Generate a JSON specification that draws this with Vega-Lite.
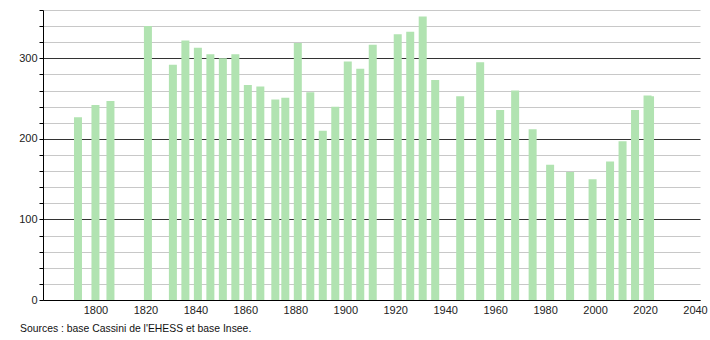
{
  "$schema": "https://vega.github.io/schema/vega-lite/v6.json",
  "width": 657,
  "height": 290,
  "autosize": "none",
  "padding": {"left": 43, "top": 10, "right": 10, "bottom": 40},
  "background": "white",
  "title": {"text": "Sources : base Cassini de l'EHESS et base Insee.", "orient": "bottom", "anchor": "start", "frame": "group", "dx": -23, "offset": 9, "fontSize": 10.4, "font": "Liberation Sans", "fontWeight": "normal", "color": "#111"},
  "data": {"values": [
    {"year": 1793, "pop": 227}, {"year": 1800, "pop": 242}, {"year": 1806, "pop": 247},
    {"year": 1821, "pop": 340}, {"year": 1831, "pop": 292}, {"year": 1836, "pop": 322},
    {"year": 1841, "pop": 313}, {"year": 1846, "pop": 305}, {"year": 1851, "pop": 300},
    {"year": 1856, "pop": 305}, {"year": 1861, "pop": 267}, {"year": 1866, "pop": 265},
    {"year": 1872, "pop": 249}, {"year": 1876, "pop": 251}, {"year": 1881, "pop": 319},
    {"year": 1886, "pop": 258}, {"year": 1891, "pop": 210}, {"year": 1896, "pop": 240},
    {"year": 1901, "pop": 296}, {"year": 1906, "pop": 287}, {"year": 1911, "pop": 317},
    {"year": 1921, "pop": 330}, {"year": 1926, "pop": 333}, {"year": 1931, "pop": 352},
    {"year": 1936, "pop": 273}, {"year": 1946, "pop": 253}, {"year": 1954, "pop": 295},
    {"year": 1962, "pop": 236}, {"year": 1968, "pop": 260}, {"year": 1975, "pop": 212},
    {"year": 1982, "pop": 168}, {"year": 1990, "pop": 159}, {"year": 1999, "pop": 150},
    {"year": 2006, "pop": 172}, {"year": 2011, "pop": 197}, {"year": 2016, "pop": 236},
    {"year": 2021, "pop": 254}, {"year": 2022, "pop": 253}
  ]},
  "mark": {"type": "bar", "size": 8, "color": "#b1e3b1"},
  "encoding": {
    "x": {"field": "year", "type": "quantitative",
      "scale": {"domain": [1779, 2042], "nice": false, "zero": false, "padding": 0},
      "axis": {"title": null, "values": [1800, 1820, 1840, 1860, 1880, 1900, 1920, 1940, 1960, 1980, 2000, 2020, 2040], "format": "d", "grid": false, "ticks": false, "domainColor": "#000", "labelFont": "Liberation Sans", "labelFontSize": 11, "labelColor": "#222", "labelPadding": 4}},
    "y": {"field": "pop", "type": "quantitative",
      "scale": {"domain": [0, 360], "nice": false, "padding": 0},
      "axis": {"title": null, "values": [0, 20, 40, 60, 80, 100, 120, 140, 160, 180, 200, 220, 240, 260, 280, 300, 320, 340, 360],
        "labelExpr": "datum.value % 100 === 0 ? datum.label : ''",
        "grid": true,
        "gridColor": {"condition": {"test": "datum.value % 100 === 0", "value": "#333"}, "value": "#c8c8c8"},
        "gridWidth": 1,
        "tickColor": "#000", "tickSize": 4,
        "domainColor": "#000", "labelFont": "Liberation Sans", "labelFontSize": 11, "labelColor": "#222", "labelPadding": 2}}
  },
  "config": {"view": {"stroke": null}, "axis": {"zindex": 0}}
}
